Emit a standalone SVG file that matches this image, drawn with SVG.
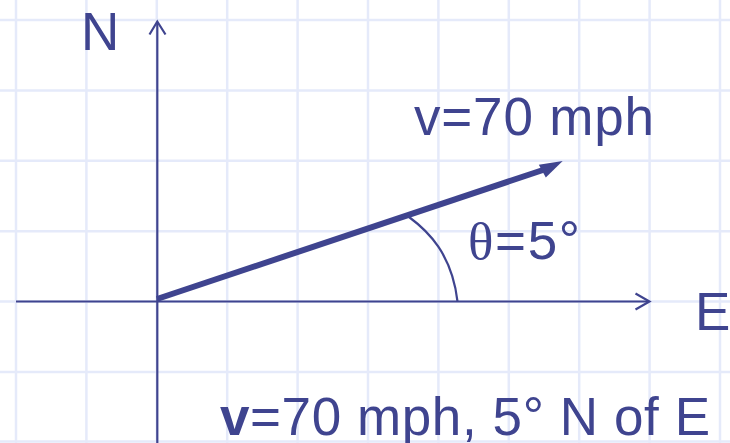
<svg xmlns="http://www.w3.org/2000/svg" width="730" height="443" viewBox="0 0 730 443">
<style>
.grid line{stroke:#e5eafa;stroke-width:2.5}
.ax{stroke:#3f448f;stroke-width:2.2;fill:none}
.t{font-family:"Liberation Sans",Arial,sans-serif;font-size:53px;fill:#3f448f}
</style>
<rect width="730" height="443" fill="#ffffff"/>
<g class="grid">
<line x1="16" y1="0" x2="16" y2="443"/>
<line x1="86.4" y1="0" x2="86.4" y2="443"/>
<line x1="156.8" y1="0" x2="156.8" y2="443"/>
<line x1="227.2" y1="0" x2="227.2" y2="443"/>
<line x1="297.6" y1="0" x2="297.6" y2="443"/>
<line x1="368" y1="0" x2="368" y2="443"/>
<line x1="438.4" y1="0" x2="438.4" y2="443"/>
<line x1="508.8" y1="0" x2="508.8" y2="443"/>
<line x1="579.2" y1="0" x2="579.2" y2="443"/>
<line x1="649.6" y1="0" x2="649.6" y2="443"/>
<line x1="720" y1="0" x2="720" y2="443"/>
<line x1="0" y1="20" x2="730" y2="20"/>
<line x1="0" y1="90.4" x2="730" y2="90.4"/>
<line x1="0" y1="160.8" x2="730" y2="160.8"/>
<line x1="0" y1="231.2" x2="730" y2="231.2"/>
<line x1="0" y1="301.6" x2="730" y2="301.6"/>
<line x1="0" y1="372" x2="730" y2="372"/>
<line x1="0" y1="441.5" x2="730" y2="441.5"/>
</g>
<g id="connectors">
<g id="n-axis">
<line class="ax" x1="157.3" y1="443" x2="157.3" y2="22"/>
<polyline class="ax" points="149.5,34.5 157.3,21.5 165.5,34.5"/>
</g>
<g id="e-axis">
<line class="ax" x1="16" y1="301.5" x2="649" y2="301.5"/>
<polyline class="ax" points="635.5,293.5 649.5,301.5 635.5,309.5"/>
</g>
<g id="vector">
<line x1="157" y1="299" x2="543" y2="170" stroke="#3f448f" stroke-width="6"/>
<polygon points="562.7,161 538.8,164.8 545.8,177.5" fill="#3f448f"/>
</g>
<path id="angle-arc" class="ax" d="M409,217 C428,231 452,254 457.5,301.5"/>
</g>
<g id="labels">
<text class="t" x="81" y="50">N</text>
<text class="t" x="695" y="330">E</text>
<text class="t" x="414" y="135" textLength="240">v=70 mph</text>
<text class="t" x="468" y="259" textLength="112"><tspan font-family="'Liberation Serif','Times New Roman',serif">θ</tspan>=5°</text>
<text class="t" x="220" y="435" textLength="490"><tspan font-weight="bold">v</tspan>=70 mph, 5° N of E</text>
</g>
</svg>
